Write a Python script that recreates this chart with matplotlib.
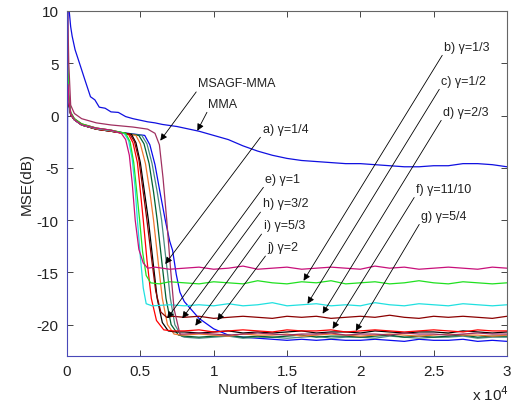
import matplotlib
matplotlib.use("Agg")
import matplotlib.pyplot as plt

plt.rcParams['font.family'] = ['Liberation Sans', 'DejaVu Sans']
plt.rcParams['axes.unicode_minus'] = False

# ---------------- data ----------------
head_x = [0, 50, 120, 250, 500, 1000, 2000, 3000]
tail_x = [8000, 9000, 10000, 11000, 12000, 13000, 14000, 15000, 16000, 17000, 18000,
          19000, 20000, 21000, 22000, 23000, 24000, 25000, 26000, 27000, 28000, 29000, 30000]

# MMA (upper blue curve)
mma_x = [0, 40, 60, 150, 250, 350, 550, 900, 1200, 1600, 1900, 2200, 2600, 3000, 3500, 4000,
         4500, 5000, 5500, 6000, 6500, 7000, 7500]
mma_y = [-30, 0, 10, 10, 8.5, 7.6, 6.3, 4.8, 3.5, 1.8, 1.5, 0.8, 0.7, 0.35, 0.3, -0.1,
         -0.3, -0.45, -0.6, -0.7, -0.85, -0.95, -1.05]
mma_tail = [-1.2, -1.5, -1.9, -2.3, -2.9, -3.4, -3.8, -4.1, -4.3, -4.4, -4.5, -4.6, -4.6,
            -4.7, -4.8, -4.9, -4.9, -4.8, -4.8, -4.6, -4.6, -4.7, -4.9]

# gamma curves + MSAGF-MMA: head values, drop segment, flat tail
mag_head = [-2, 3, 1.5, 0.2, -0.4, -0.9, -1.2, -1.4]
mag_dx = [3700, 4000, 4250, 4450, 4650, 4900, 5200, 5500, 6000, 7000]
mag_dy = [-1.7, -2.3, -3.8, -6.5, -10, -12.8, -14.1, -14.6, -14.5, -14.7]
mag_tail = [-14.6, -14.5, -14.7, -14.6, -14.4, -14.7, -14.6, -14.5, -14.7, -14.6, -14.5, -14.6,
            -14.7, -14.4, -14.6, -14.5, -14.7, -14.6, -14.5, -14.6, -14.7, -14.5, -14.6]

grn_head = [-2, 5.5, 2, 0.3, -0.3, -0.8, -1.2, -1.4]
grn_dx = [4000, 4300, 4550, 4750, 4950, 5150, 5400, 5700, 6300, 7000]
grn_dy = [-1.7, -2.5, -4.5, -7.2, -10, -13, -15.3, -16, -16.1, -15.9]
grn_tail = [-16.0, -16.1, -15.9, -16.0, -16.1, -15.8, -16.0, -16.1, -15.9, -16.0, -15.8, -16.1,
            -16.0, -15.9, -16.1, -16.0, -15.8, -16.0, -16.1, -15.9, -16.0, -16.1, -16.0]

cyn_head = [-2, 3.5, 1.5, 0.2, -0.4, -0.9, -1.25, -1.45]
cyn_dx = [3900, 4200, 4450, 4650, 4800, 5000, 5200, 5400, 5800, 7000]
cyn_dy = [-1.7, -2.4, -4.2, -7, -10, -13.5, -16.5, -18, -18.2, -18.1]
cyn_tail = [-18.2, -18.1, -18.2, -18.0, -18.2, -18.1, -17.9, -18.2, -18.1, -18.0, -18.2, -18.1,
            -18.2, -17.9, -18.1, -18.2, -18.0, -18.1, -18.2, -18.0, -18.1, -18.2, -18.1]

dkr_head = [-2, 4, 1.8, 0.3, -0.3, -0.8, -1.2, -1.4]
dkr_dx = [4300, 4600, 4900, 5150, 5450, 5750, 6050, 6400, 6800, 7200]
dkr_dy = [-1.8, -2.5, -4.2, -6.8, -10, -13.5, -16.8, -18.8, -19.3, -19.2]
dkr_tail = [-19.3, -19.2, -19.4, -19.3, -19.2, -19.3, -19.4, -19.2, -19.3, -19.2, -19.4, -19.3,
            -19.2, -19.3, -19.1, -19.3, -19.4, -19.2, -19.3, -19.2, -19.3, -19.4, -19.2]

red_head = [-2, 3, 1.4, 0.1, -0.4, -0.9, -1.3, -1.5]
red_dx = [4200, 4500, 4800, 5000, 5200, 5450, 5750, 6100, 6600, 7200]
red_dy = [-1.8, -2.6, -4.5, -7.2, -10, -13.8, -17.5, -19.6, -20.5, -20.6]
red_tail = [-20.6, -20.5, -20.7, -20.6, -20.5, -20.6, -20.7, -20.5, -20.6, -20.6, -20.5, -20.7,
            -20.6, -20.5, -20.6, -20.7, -20.6, -20.5, -20.6, -20.7, -20.5, -20.6, -20.6]

blk_head = [-2.5, 2.5, 1.2, 0.1, -0.4, -0.9, -1.3, -1.5]
blk_dx = [4400, 4700, 5000, 5250, 5550, 5850, 6150, 6500, 6900, 7400]
blk_dy = [-1.8, -2.6, -4.5, -7, -10, -13.8, -17.5, -19.8, -20.6, -20.7]
blk_tail = [-20.7, -20.8, -20.7, -20.6, -20.8, -20.7, -20.8, -20.7, -20.6, -20.8, -20.7, -20.7,
            -20.8, -20.6, -20.7, -20.8, -20.7, -20.7, -20.8, -20.6, -20.7, -20.8, -20.7]

org_head = [-2, 3, 1.3, 0.1, -0.4, -0.9, -1.3, -1.5]
org_dx = [4700, 5000, 5350, 5650, 5900, 6200, 6500, 6850, 7300, 7800]
org_dy = [-1.9, -2.7, -4.6, -7.3, -10, -13.8, -17.5, -20, -20.9, -21.0]
org_tail = [-21.0, -20.9, -21.0, -21.1, -20.9, -21.0, -21.0, -20.9, -21.1, -21.0, -20.9, -21.0,
            -21.1, -21.0, -20.9, -21.0, -21.1, -21.0, -20.9, -21.0, -21.0, -21.1, -21.0]

dgr_head = [-2, 2.5, 1.2, 0.1, -0.4, -0.9, -1.3, -1.5]
dgr_dx = [4900, 5250, 5600, 5900, 6150, 6450, 6750, 7100, 7600]
dgr_dy = [-1.9, -2.7, -4.6, -7.3, -10, -13.8, -17.5, -20, -21.0]
dgr_tail = [-21.1, -21.2, -21.1, -21.0, -21.2, -21.1, -21.2, -21.1, -21.0, -21.2, -21.1, -21.1,
            -21.2, -21.1, -21.0, -21.2, -21.1, -21.2, -21.1, -21.0, -21.2, -21.1, -21.1]

tea_head = [-2, 2.5, 1.2, 0.1, -0.4, -0.9, -1.3, -1.5]
tea_dx = [5100, 5450, 5800, 6150, 6450, 6750, 7050, 7350, 7800]
tea_dy = [-1.9, -2.7, -4.6, -7.3, -10, -13.8, -17.5, -20, -21.1]
tea_tail = [-21.2, -21.3, -21.2, -21.1, -21.3, -21.2, -21.2, -21.3, -21.2, -21.1, -21.3, -21.2,
            -21.2, -21.3, -21.1, -21.2, -21.3, -21.2, -21.2, -21.1, -21.3, -21.2, -21.2]

blu_head = [-2, 3, 1.3, 0.1, -0.4, -0.9, -1.3, -1.5]
blu_dx = [5300, 5650, 6000, 6350, 6700, 7000, 7200, 7450, 7700]
blu_dy = [-1.9, -2.8, -4.7, -7.4, -10, -12, -12.9, -15.2, -16.9]
blu_tail = [-17.8, -19.4, -20.4, -21.0, -21.2, -21.3, -21.4, -21.5, -21.4, -21.5, -21.4, -21.5,
            -21.5, -21.4, -21.5, -21.6, -21.4, -21.5, -21.5, -21.4, -21.6, -21.5, -21.6]

mar_head = [-3, 10, 5, 1.0, 0.2, -0.3, -0.7, -0.9]
mar_dx = [4500, 5500, 6000, 6300, 6550, 6800, 7050, 7300, 7700]
mar_dy = [-1.1, -1.3, -1.7, -2.8, -6, -10, -14.5, -18.5, -20.9]
mar_tail = [-20.9, -20.8, -20.9, -21.0, -20.9, -20.8, -20.9, -21.0, -20.9, -20.9, -20.8, -21.0,
            -20.9, -20.9, -21.0, -20.8, -20.9, -20.9, -21.0, -20.9, -20.8, -20.9, -20.9]

curves = [
    ('#0a0aee', blu_head, blu_dx, blu_dy, blu_tail),
    ('#4a8a80', tea_head, tea_dx, tea_dy, tea_tail),
    ('#006030', dgr_head, dgr_dx, dgr_dy, dgr_tail),
    ('#f07830', org_head, org_dx, org_dy, org_tail),
    ('#000000', blk_head, blk_dx, blk_dy, blk_tail),
    ('#ff0000', red_head, red_dx, red_dy, red_tail),
    ('#8b0000', dkr_head, dkr_dx, dkr_dy, dkr_tail),
    ('#20e0e0', cyn_head, cyn_dx, cyn_dy, cyn_tail),
    ('#20e020', grn_head, grn_dx, grn_dy, grn_tail),
    ('#c8107a', mag_head, mag_dx, mag_dy, mag_tail),
    ('#a03060', mar_head, mar_dx, mar_dy, mar_tail),
]

# annotations: label, text position (iter, dB), arrow tip (iter, dB)
ann_labels = ['MSAGF-MMA', 'MMA', 'a) γ=1/4', 'b) γ=1/3', 'c) γ=1/2', 'd) γ=2/3',
              'e) γ=1', 'f) γ=11/10', 'g) γ=5/4', 'h) γ=3/2', 'i) γ=5/3', 'j) γ=2']
ann_text = [(8950, 3.1), (9640, 1.15), (13330, -1.24), (25700, 6.6), (25500, 3.35), (25630, 0.38),
            (13530, -6.03), (23790, -7.0), (24130, -9.57), (13330, -8.4), (13400, -10.5), (13670, -12.6)]
ann_tip = [(6360, -2.4), (8890, -1.45), (6700, -14.2), (16130, -15.8), (16400, -18.0), (17430, -18.95),
           (6830, -19.4), (18110, -20.4), (19690, -20.6), (7860, -19.4), (8750, -20.1), (10250, -19.6)]

xtick_vals = [0, 5000, 10000, 15000, 20000, 25000, 30000]
xtick_labels = ['0', '0.5', '1', '1.5', '2', '2.5', '3']
ytick_vals = [-20, -15, -10, -5, 0, 5, 10]

# ---------------- plot ----------------
fig = plt.figure(figsize=(5.13, 4.06), dpi=100)
ax = fig.add_axes([67/513, 1-357/406, 440/513, 345/406])

ax.plot(mma_x + tail_x, mma_y + mma_tail, color='#1010e0', lw=0.9)
for col, hy, dx, dy, ty in curves:
    ax.plot(head_x + dx + tail_x, hy + dy + ty, color=col, lw=0.9)

for lab, tp, tip in zip(ann_labels, ann_text, ann_tip):
    ax.annotate(lab, xy=tip, xytext=tp, ha='left', va='center', fontsize=9, color='#222222',
                arrowprops=dict(arrowstyle='-|>', color='k', lw=0.6, mutation_scale=10,
                                shrinkA=0, shrinkB=0, relpos=(0.0, 0.0)))

ax.set_xlim(0, 30000)
ax.set_ylim(-23, 10)
ax.set_xticks(xtick_vals)
ax.set_xticklabels(xtick_labels)
ax.set_yticks(ytick_vals)
ax.tick_params(direction='in', top=True, right=True, length=4, width=0.7,
               labelsize=11, colors='#444444', labelcolor='#222222', pad=6)
for s in ['top', 'right']:
    ax.spines[s].set_color('#666666')
for s in ['left', 'bottom']:
    ax.spines[s].set_color('#4848b8')
for s in ax.spines.values():
    s.set_linewidth(0.8)

ax.set_xlabel('Numbers of Iteration', fontsize=11, color='#222222', labelpad=3)
ax.set_ylabel('MSE(dB)', fontsize=11, color='#222222', labelpad=2)
fig.text(472/513, 1-395/406, r'x 10$^4$', fontsize=11, color='#222222', va='center', ha='left')

fig.savefig('out.png', dpi=100)
